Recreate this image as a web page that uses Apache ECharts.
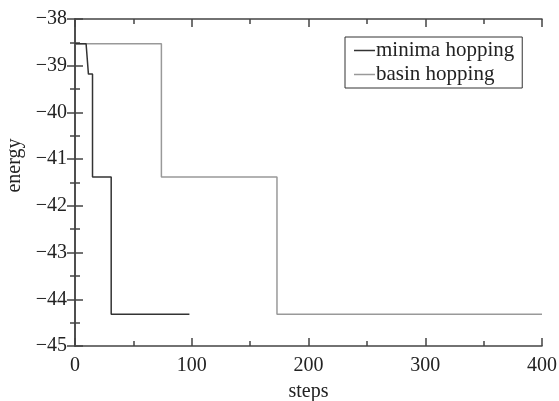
<!DOCTYPE html>
<html>
<head>
<meta charset="utf-8">
<script src="https://cdn.jsdelivr.net/npm/echarts@6/dist/echarts.min.js"></script>
<style>
html,body{margin:0;padding:0;background:#fff}
#main{width:559px;height:401px}
</style>
</head>
<body>
<div id="main"></div>
<script>
// values
var minimaSteps = [0, 9.5, 11.5, 15, 15, 31, 31, 98];
var minimaEnergy = [-38.53, -38.53, -39.18, -39.18, -41.38, -41.38, -44.32, -44.32];
var basinSteps = [0, 74, 74, 173, 173, 400];
var basinEnergy = [-38.53, -38.53, -41.38, -41.38, -44.32, -44.32];
var seriesNames = ['minima hopping', 'basin hopping'];

function pairs(xs, ys) {
    return xs.map(function (x, i) { return [x, ys[i]]; });
}
function minus(v) {
    return String(v).replace('-', '\u2212');
}

var font = 'Liberation Serif';
var fs = 20;
var axisCol = '#444';
var tick = { inside: true, length: 8, lineStyle: { color: axisCol, width: 1.5 } };
var minor = { show: true, splitNumber: 2, length: 5, lineStyle: { color: axisCol, width: 1.5 } };
var line = { show: true, lineStyle: { color: axisCol, width: 1.5 } };

var myChart = echarts.init(document.getElementById('main'));
var option = {
    animation: false,
    textStyle: { fontFamily: font },
    grid: { left: 75, right: 17, top: 19, bottom: 55, containLabel: false, outerBoundsMode: 'none' },
    legend: {
        left: 345, top: 37,
        orient: 'vertical',
        borderColor: '#333', borderWidth: 1,
        padding: [3, 8, 3, 9],
        itemGap: 3,
        icon: 'rect',
        itemWidth: 21, itemHeight: 1.5,
        textStyle: { fontFamily: font, fontSize: 21, color: '#222', padding: [0, 0, 0, -4] },
        data: seriesNames
    },
    xAxis: [{
        type: 'value', min: 0, max: 400, interval: 100,
        name: 'steps', nameLocation: 'middle', nameGap: 36,
        nameTextStyle: { fontFamily: font, fontSize: fs, color: '#222' },
        axisLine: line, axisTick: tick, minorTick: minor,
        axisLabel: { fontFamily: font, fontSize: fs, color: '#222', margin: 10 },
        splitLine: { show: false }
    }, {
        type: 'value', min: 0, max: 400, interval: 100, position: 'top',
        axisLine: line, axisTick: tick, minorTick: minor,
        axisLabel: { show: false },
        splitLine: { show: false }
    }],
    yAxis: [{
        type: 'value', min: -45, max: -38, interval: 1,
        name: 'energy', nameLocation: 'middle', nameGap: 44, nameRotate: 90,
        nameTextStyle: { fontFamily: font, fontSize: fs, color: '#222', padding: [0, 0, 0, 34] },
        axisLine: line, axisTick: tick, minorTick: minor,
        axisLabel: { fontFamily: font, fontSize: fs, color: '#222', margin: 8, formatter: minus },
        splitLine: { show: false }
    }, {
        type: 'value', min: -45, max: -38, interval: 1, position: 'right',
        axisLine: line, axisTick: tick, minorTick: minor,
        axisLabel: { show: false },
        splitLine: { show: false }
    }],
    series: [{
        name: seriesNames[0],
        type: 'line',
        symbol: 'none',
        data: pairs(minimaSteps, minimaEnergy),
        lineStyle: { color: '#333', width: 1.5 },
        itemStyle: { color: '#333' },
        z: 3
    }, {
        name: seriesNames[1],
        type: 'line',
        symbol: 'none',
        data: pairs(basinSteps, basinEnergy),
        lineStyle: { color: '#999', width: 1.5 },
        itemStyle: { color: '#999' },
        z: 2
    }]
};
myChart.setOption(option);
</script>
</body>
</html>
